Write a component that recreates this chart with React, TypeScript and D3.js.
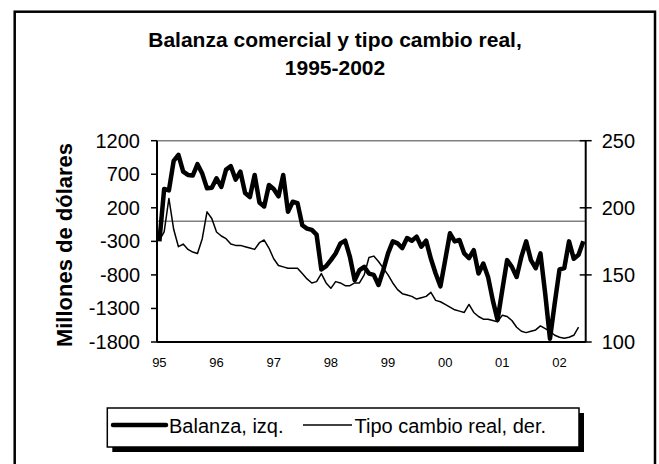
import React, { useEffect, useRef } from "react";
import * as d3 from "d3";

// monthly, Jan 1995 .. Jun 2002 (millones de dolares, eje izq.)
const balanza = [
  -300, 480, 460, 900, 990, 740, 690, 680, 850, 710, 490, 500,
  640, 510, 770, 820, 620, 740, 420, 360, 690, 280, 220, 540,
  480, 370, 690, 140, 290, 270, -60, -110, -130, -200, -720, -670,
  -580, -480, -330, -290, -530, -880, -730, -680, -780, -800, -950, -730,
  -480, -300, -330, -400, -250, -290, -230, -380, -290, -560, -780, -970,
  -580, -180, -300, -280, -480, -550, -430, -780, -630, -830, -1180, -1470,
  -1020, -580, -680, -830, -530, -300, -580, -700, -480, -1080, -1750, -1220,
  -720, -700, -300, -560, -500, -300,
];

// tipo de cambio real (eje der.), Jan 1995 .. May 2002
const tipoCambio = [
  176, 182, 207, 184, 171, 173, 169, 167, 166, 177, 197, 192,
  182, 179, 177, 173, 172, 172, 171, 170, 169, 174, 176, 170,
  162, 157, 156, 155, 155, 155, 151, 147, 144, 145, 151, 144,
  140, 145, 144, 142, 142, 144, 144, 150, 163, 164, 160, 155,
  150, 144, 139, 136, 135, 134, 132, 133, 134, 137, 131, 130,
  128, 126, 124, 123, 122, 128, 122, 119, 117, 117, 116, 115,
  120, 119, 116, 111, 108, 107, 108, 109, 112, 110, 108, 105,
  103.5, 102.8, 103.5, 105, 111,
];

const yearLabels = ["95", "96", "97", "98", "99", "00", "01", "02"];
const leftTicks = [1200, 700, 200, -300, -800, -1300, -1800];
const rightTicks = [250, 200, 150, 100];

const W = 659;
const H = 464;
const font = "'Liberation Sans', Arial, sans-serif";

export default function App() {
  const ref = useRef<SVGSVGElement>(null);

  useEffect(() => {
    const svg = d3.select(ref.current);
    svg.selectAll("*").remove();

    const left = 157, right = 585.7, top = 140.7, bottom = 342;

    const months = d3.range(balanza.length);
    const x = d3.scaleBand<number>().domain(months).range([left, right]);
    const cx = (i: number) => (x(i) as number) + x.bandwidth() / 2;
    const yL = d3.scaleLinear().domain([-1800, 1200]).range([bottom, top]);
    const yR = d3.scaleLinear().domain([100, 250]).range([bottom, top]);

    // outer frame
    svg.append("rect")
      .attr("x", 14.7).attr("y", 11.7)
      .attr("width", 655 - 14.7).attr("height", 470)
      .attr("fill", "white").attr("stroke", "black").attr("stroke-width", 2.5);

    // title
    const title = svg.append("text")
      .attr("text-anchor", "middle")
      .attr("font-family", font).attr("font-weight", "bold").attr("font-size", 21);
    title.append("tspan").attr("x", 335).attr("y", 46.5).text("Balanza comercial y tipo cambio real,");
    title.append("tspan").attr("x", 335).attr("y", 75).text("1995-2002");

    // y title
    svg.append("text")
      .attr("transform", `translate(72,245) rotate(-90)`)
      .attr("text-anchor", "middle")
      .attr("font-family", font).attr("font-weight", "bold").attr("font-size", 22)
      .text("Millones de dólares");

    // plot area top border
    svg.append("line")
      .attr("x1", left).attr("x2", right).attr("y1", top).attr("y2", top)
      .attr("stroke", "#808080").attr("stroke-width", 1.5);

    // zero line
    svg.append("line")
      .attr("x1", left).attr("x2", right).attr("y1", yL(0)).attr("y2", yL(0))
      .attr("stroke", "#808080").attr("stroke-width", 1.5);

    // left axis
    svg.append("line")
      .attr("x1", left).attr("x2", left).attr("y1", top).attr("y2", bottom)
      .attr("stroke", "black").attr("stroke-width", 2);
    leftTicks.forEach((t) => {
      svg.append("line")
        .attr("x1", left - 6).attr("x2", left).attr("y1", yL(t)).attr("y2", yL(t))
        .attr("stroke", "black").attr("stroke-width", 1.5);
      svg.append("text")
        .attr("x", 140).attr("y", yL(t) + 7)
        .attr("text-anchor", "end")
        .attr("font-family", font).attr("font-size", 20)
        .text(t);
    });

    // right axis
    svg.append("line")
      .attr("x1", right).attr("x2", right).attr("y1", top).attr("y2", bottom)
      .attr("stroke", "black").attr("stroke-width", 2);
    rightTicks.forEach((t) => {
      svg.append("line")
        .attr("x1", right - 6).attr("x2", right + 6).attr("y1", yR(t)).attr("y2", yR(t))
        .attr("stroke", "black").attr("stroke-width", 1.5);
      svg.append("text")
        .attr("x", 601.7).attr("y", yR(t) + 7)
        .attr("font-family", font).attr("font-size", 20)
        .text(t);
    });

    // bottom axis
    svg.append("line")
      .attr("x1", left).attr("x2", right).attr("y1", bottom).attr("y2", bottom)
      .attr("stroke", "black").attr("stroke-width", 2);
    yearLabels.forEach((lab, k) => {
      svg.append("text")
        .attr("x", cx(k * 12)).attr("y", 367)
        .attr("text-anchor", "middle")
        .attr("font-family", font).attr("font-size", 13)
        .text(lab);
    });

    // series
    const lineL = d3.line<number>().x((_, i) => cx(i)).y((d) => yL(d));
    const lineR = d3.line<number>().x((_, i) => cx(i)).y((d) => yR(d));

    svg.append("path")
      .datum(tipoCambio)
      .attr("d", lineR)
      .attr("fill", "none").attr("stroke", "black").attr("stroke-width", 1.5)
      .attr("stroke-linejoin", "round");

    svg.append("path")
      .datum(balanza)
      .attr("d", lineL)
      .attr("fill", "none").attr("stroke", "black").attr("stroke-width", 4.5)
      .attr("stroke-linejoin", "round");

    // legend
    const lg = svg.append("g");
    lg.append("rect")
      .attr("x", 112.3).attr("y", 413).attr("width", 579 - 107.3).attr("height", 39)
      .attr("fill", "black");
    lg.append("rect")
      .attr("x", 107.3).attr("y", 408).attr("width", 579 - 107.3).attr("height", 39)
      .attr("fill", "white").attr("stroke", "black").attr("stroke-width", 1.5);
    lg.append("line")
      .attr("x1", 113).attr("x2", 166).attr("y1", 425).attr("y2", 425)
      .attr("stroke", "black").attr("stroke-width", 4.5).attr("stroke-linecap", "round");
    lg.append("text")
      .attr("x", 169).attr("y", 432.5)
      .attr("font-family", font).attr("font-size", 20)
      .text("Balanza, izq.");
    lg.append("line")
      .attr("x1", 303).attr("x2", 352).attr("y1", 425).attr("y2", 425)
      .attr("stroke", "black").attr("stroke-width", 1.5);
    lg.append("text")
      .attr("x", 354.5).attr("y", 432.5)
      .attr("font-family", font).attr("font-size", 20)
      .text("Tipo cambio real, der.");
  }, []);

  return (
    <svg
      ref={ref}
      width={W}
      height={H}
      style={{ position: "absolute", left: 0, top: 0, background: "white" }}
    />
  );
}
